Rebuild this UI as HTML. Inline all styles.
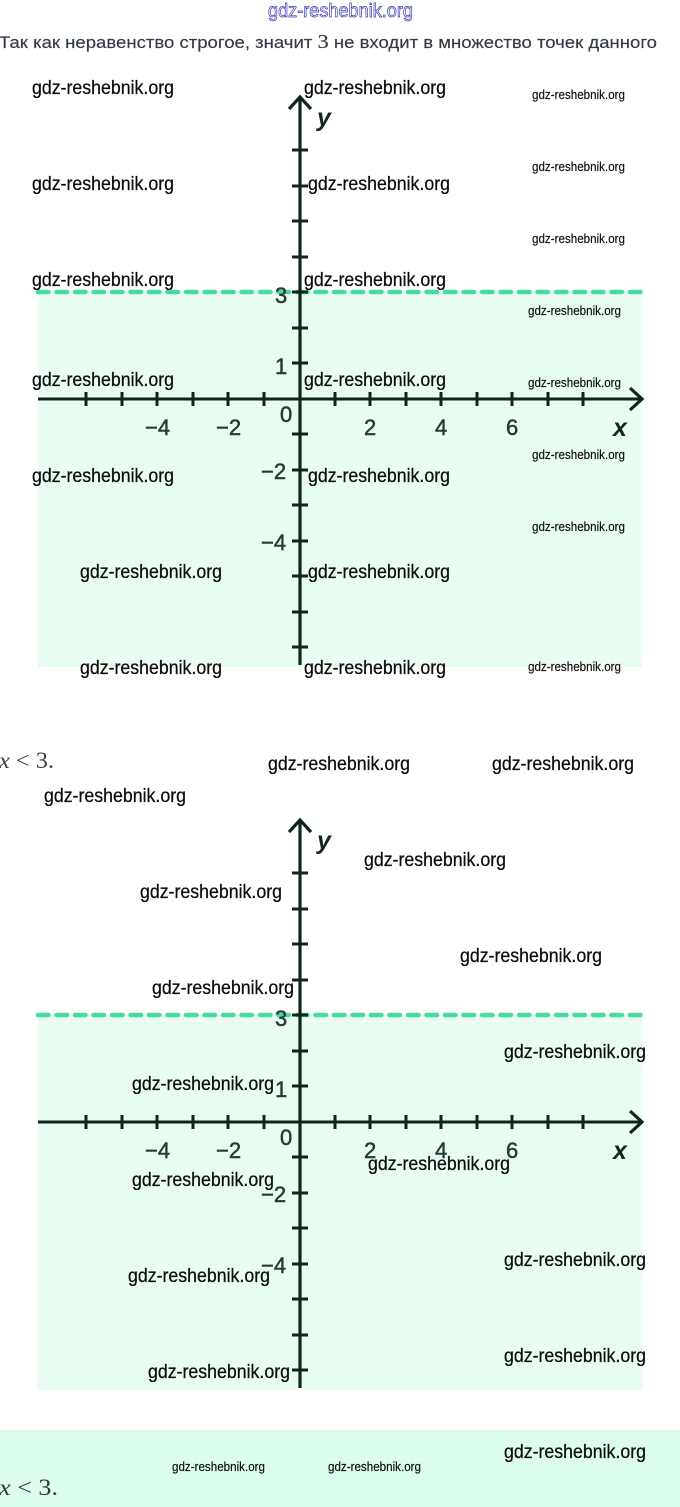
<!DOCTYPE html>
<html lang="ru">
<head>
<meta charset="utf-8">
<title>gdz-reshebnik.org</title>
<style>
html,body{margin:0;padding:0;background:#fff;}
body{width:680px;height:1507px;overflow:hidden;}
svg{display:block;}
.w{font-family:"Liberation Sans",sans-serif;font-size:19px;fill:#0c0c0c;stroke:#0c0c0c;stroke-width:.25px;}
.s{font-family:"Liberation Sans",sans-serif;font-size:13px;fill:#0c0c0c;stroke:#0c0c0c;stroke-width:.15px;}
.n{font-family:"Liberation Sans",sans-serif;font-size:22px;fill:#2b3a36;stroke:#2b3a36;stroke-width:.5px;}
.v{font-family:"Liberation Sans",sans-serif;font-size:25px;font-weight:bold;font-style:italic;fill:#15261f;}
.m{font-family:"Liberation Serif",serif;font-size:23px;fill:#3a4048;}
</style>
</head>
<body>
<svg width="680" height="1507" viewBox="0 0 680 1507" xmlns="http://www.w3.org/2000/svg">
<defs>
<g id="graph">
  <rect x="38" y="292" width="604" height="375" fill="#e9fcf2"/>
  <line x1="38" y1="292" x2="642" y2="292" stroke="#45dca0" stroke-width="4.5" stroke-linecap="round" stroke-dasharray="10.5 8"/>
  <g stroke="#11251d" stroke-width="3" fill="none">
    <line x1="38" y1="399" x2="641" y2="399" stroke-width="3"/>
    <line x1="300" y1="97" x2="300" y2="665" stroke-width="3.2"/>
    <polyline points="289,109 300,97 311,109" stroke-width="3.2"/>
    <polyline points="630,388 642,399 630,410" stroke-width="3.2"/>
    <path d="M86 392V406M122 392V406M157 392V406M193 392V406M228 392V406M264 392V406M335 392V406M370 392V406M406 392V406M441 392V406M477 392V406M512 392V406M548 392V406M583 392V406"/>
    <path d="M292 150H308M292 186H308M292 221H308M292 257H308M292 292H308M292 328H308M292 363H308M292 434H308M292 470H308M292 505H308M292 541H308M292 576H308M292 612H308M292 647H308"/>
  </g>
  <text class="n" x="275" y="303">3</text>
  <text class="n" x="275" y="374">1</text>
  <text class="n" x="280" y="422">0</text>
  <text class="n" x="364" y="435">2</text>
  <text class="n" x="435" y="435">4</text>
  <text class="n" x="506" y="435">6</text>
  <text class="n" x="145" y="435">−4</text>
  <text class="n" x="216" y="435">−2</text>
  <text class="n" x="261" y="479">−2</text>
  <text class="n" x="261" y="550">−4</text>
  <text class="v" x="317" y="126">y</text>
  <text class="v" x="613" y="436">x</text>
</g>
</defs>

<rect x="0" y="1430" width="680" height="77" fill="#dcfdee"/>

<use href="#graph"/>
<use href="#graph" transform="translate(0,723)"/>

<text x="268" y="17" font-family="Liberation Sans, sans-serif" font-size="19" fill="#fff" stroke="#3434c8" stroke-width="0.7" textLength="145" lengthAdjust="spacingAndGlyphs">gdz-reshebnik.org</text>

<text x="-1" y="48" font-family="Liberation Sans, sans-serif" font-size="16.5" fill="#333a45" stroke="#333a45" stroke-width="0.15" textLength="658" lengthAdjust="spacingAndGlyphs">Так как неравенство строгое, значит <tspan font-family="Liberation Serif, serif" font-size="20">3</tspan> не входит в множество точек данного</text>

<text class="m" x="-1" y="768" textLength="55" lengthAdjust="spacingAndGlyphs"><tspan font-style="italic">x</tspan> &lt; 3.</text>
<text class="m" x="-1" y="1495" textLength="59" lengthAdjust="spacingAndGlyphs" style="fill:#2e3a38"><tspan font-style="italic">x</tspan> &lt; 3.</text>

<g>
<text class="w" x="32" y="94" textLength="142" lengthAdjust="spacingAndGlyphs">gdz-reshebnik.org</text>
<text class="w" x="304" y="94" textLength="142" lengthAdjust="spacingAndGlyphs">gdz-reshebnik.org</text>
<text class="w" x="32" y="190" textLength="142" lengthAdjust="spacingAndGlyphs">gdz-reshebnik.org</text>
<text class="w" x="308" y="190" textLength="142" lengthAdjust="spacingAndGlyphs">gdz-reshebnik.org</text>
<text class="w" x="32" y="286" textLength="142" lengthAdjust="spacingAndGlyphs">gdz-reshebnik.org</text>
<text class="w" x="304" y="286" textLength="142" lengthAdjust="spacingAndGlyphs">gdz-reshebnik.org</text>
<text class="w" x="32" y="386" textLength="142" lengthAdjust="spacingAndGlyphs">gdz-reshebnik.org</text>
<text class="w" x="304" y="386" textLength="142" lengthAdjust="spacingAndGlyphs">gdz-reshebnik.org</text>
<text class="w" x="32" y="482" textLength="142" lengthAdjust="spacingAndGlyphs">gdz-reshebnik.org</text>
<text class="w" x="308" y="482" textLength="142" lengthAdjust="spacingAndGlyphs">gdz-reshebnik.org</text>
<text class="w" x="80" y="578" textLength="142" lengthAdjust="spacingAndGlyphs">gdz-reshebnik.org</text>
<text class="w" x="308" y="578" textLength="142" lengthAdjust="spacingAndGlyphs">gdz-reshebnik.org</text>
<text class="w" x="80" y="674" textLength="142" lengthAdjust="spacingAndGlyphs">gdz-reshebnik.org</text>
<text class="w" x="304" y="674" textLength="142" lengthAdjust="spacingAndGlyphs">gdz-reshebnik.org</text>
<text class="w" x="268" y="770" textLength="142" lengthAdjust="spacingAndGlyphs">gdz-reshebnik.org</text>
<text class="w" x="492" y="770" textLength="142" lengthAdjust="spacingAndGlyphs">gdz-reshebnik.org</text>
<text class="w" x="44" y="802" textLength="142" lengthAdjust="spacingAndGlyphs">gdz-reshebnik.org</text>
<text class="w" x="364" y="866" textLength="142" lengthAdjust="spacingAndGlyphs">gdz-reshebnik.org</text>
<text class="w" x="140" y="898" textLength="142" lengthAdjust="spacingAndGlyphs">gdz-reshebnik.org</text>
<text class="w" x="460" y="962" textLength="142" lengthAdjust="spacingAndGlyphs">gdz-reshebnik.org</text>
<text class="w" x="152" y="994" textLength="142" lengthAdjust="spacingAndGlyphs">gdz-reshebnik.org</text>
<text class="w" x="504" y="1058" textLength="142" lengthAdjust="spacingAndGlyphs">gdz-reshebnik.org</text>
<text class="w" x="132" y="1090" textLength="142" lengthAdjust="spacingAndGlyphs">gdz-reshebnik.org</text>
<text class="w" x="368" y="1170" textLength="142" lengthAdjust="spacingAndGlyphs">gdz-reshebnik.org</text>
<text class="w" x="132" y="1186" textLength="142" lengthAdjust="spacingAndGlyphs">gdz-reshebnik.org</text>
<text class="w" x="504" y="1266" textLength="142" lengthAdjust="spacingAndGlyphs">gdz-reshebnik.org</text>
<text class="w" x="128" y="1282" textLength="142" lengthAdjust="spacingAndGlyphs">gdz-reshebnik.org</text>
<text class="w" x="504" y="1362" textLength="142" lengthAdjust="spacingAndGlyphs">gdz-reshebnik.org</text>
<text class="w" x="148" y="1378" textLength="142" lengthAdjust="spacingAndGlyphs">gdz-reshebnik.org</text>
<text class="w" x="504" y="1458" textLength="142" lengthAdjust="spacingAndGlyphs">gdz-reshebnik.org</text>
</g>

<text class="s" x="532" y="99" textLength="93" lengthAdjust="spacingAndGlyphs">gdz-reshebnik.org</text>
<text class="s" x="532" y="171" textLength="93" lengthAdjust="spacingAndGlyphs">gdz-reshebnik.org</text>
<text class="s" x="532" y="243" textLength="93" lengthAdjust="spacingAndGlyphs">gdz-reshebnik.org</text>
<text class="s" x="528" y="315" textLength="93" lengthAdjust="spacingAndGlyphs">gdz-reshebnik.org</text>
<text class="s" x="528" y="387" textLength="93" lengthAdjust="spacingAndGlyphs">gdz-reshebnik.org</text>
<text class="s" x="532" y="459" textLength="93" lengthAdjust="spacingAndGlyphs">gdz-reshebnik.org</text>
<text class="s" x="532" y="531" textLength="93" lengthAdjust="spacingAndGlyphs">gdz-reshebnik.org</text>
<text class="s" x="528" y="671" textLength="93" lengthAdjust="spacingAndGlyphs">gdz-reshebnik.org</text>
<text class="s" x="172" y="1471" textLength="93" lengthAdjust="spacingAndGlyphs">gdz-reshebnik.org</text>
<text class="s" x="328" y="1471" textLength="93" lengthAdjust="spacingAndGlyphs">gdz-reshebnik.org</text>
</svg>
</body>
</html>
